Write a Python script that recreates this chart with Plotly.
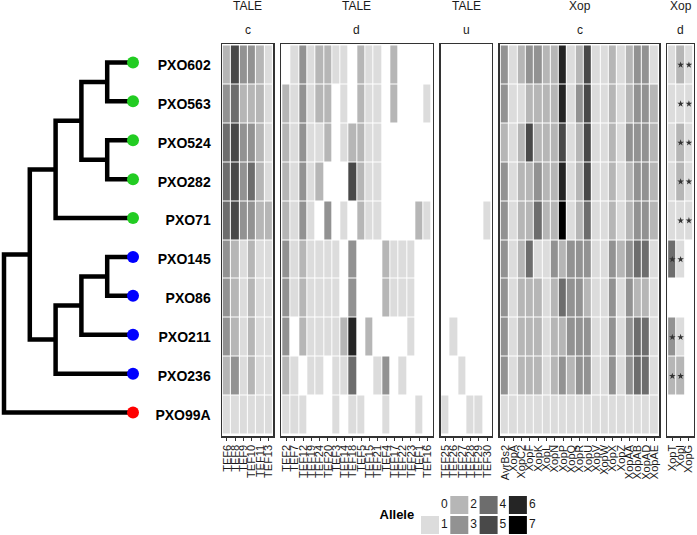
import plotly.graph_objects as go

# ---------------- data ----------------
strains = ["PXO602", "PXO563", "PXO524", "PXO282", "PXO71",
           "PXO145", "PXO86", "PXO211", "PXO236", "PXO99A"]
strain_group = ["g", "g", "g", "g", "g", "b", "b", "b", "b", "r"]
group_colors = {"g": "#22cc22", "b": "#0000ff", "r": "#ff0000"}
green_clade = ((("PXO602", "PXO563"), ("PXO524", "PXO282")), "PXO71")
blue_clade = ((("PXO145", "PXO86"), "PXO211"), "PXO236")
tree = ((green_clade, blue_clade), "PXO99A")

panel_type = ["TALE", "TALE", "TALE", "Xop", "Xop"]
panel_class = ["c", "d", "u", "c", "d"]

tale_c_cols = ["TEF6", "TEF8", "TEF9", "TEF10", "TEF11", "TEF13"]
tale_d_cols = ["TEF2", "TEF7", "TEF12", "TEF19", "TEF24", "TEF20", "TEF3", "TEF14", "TEF18",
               "TEF5", "TEF15", "TEF21", "TEF4", "TEF17", "TEF22", "TEF23", "TEF1", "TEF16"]
tale_u_cols = ["TEF25", "TEF26", "TEF27", "TEF28", "TEF29", "TEF30"]
xop_c_cols = ["AvrBs2", "XopA", "XopC2", "XopF", "XopK", "XopL", "XopN", "XopP", "XopQ", "XopR",
              "XopU", "XopV", "XopW", "XopX", "XopZ", "XopAA", "XopAB", "XopAD", "XopAE"]
xop_d_cols = ["XopT", "XopI", "XopG"]

tale_c = [
    [2, 5, 3, 3, 2, 1],
    [3, 4, 2, 2, 2, 1],
    [4, 5, 3, 3, 2, 1],
    [4, 5, 3, 4, 2, 1],
    [4, 5, 3, 3, 2, 2],
    [3, 2, 1, 2, 1, 1],
    [3, 2, 1, 2, 1, 1],
    [3, 2, 1, 2, 1, 1],
    [2, 3, 1, 2, 1, 1],
    [1, 1, 1, 1, 1, 1],
]
tale_d = [
    [0, 1, 3, 1, 2, 2, 1, 1, 0, 2, 1, 1, 0, 2, 0, 0, 0, 0],
    [2, 1, 3, 1, 2, 2, 0, 1, 0, 2, 1, 1, 0, 2, 0, 0, 0, 1],
    [2, 1, 3, 1, 1, 2, 0, 1, 2, 2, 1, 1, 0, 0, 0, 0, 0, 0],
    [2, 1, 3, 1, 2, 0, 0, 0, 5, 2, 1, 1, 0, 0, 0, 0, 0, 0],
    [2, 1, 3, 1, 0, 3, 0, 1, 0, 2, 1, 1, 0, 0, 0, 0, 2, 1],
    [3, 1, 2, 1, 1, 1, 1, 0, 3, 0, 0, 0, 2, 1, 1, 1, 0, 0],
    [3, 1, 2, 1, 1, 1, 1, 0, 3, 0, 0, 0, 2, 1, 1, 1, 0, 0],
    [3, 0, 2, 1, 1, 1, 1, 2, 6, 0, 2, 0, 0, 0, 0, 1, 0, 0],
    [2, 1, 0, 1, 1, 0, 1, 1, 4, 0, 0, 1, 3, 0, 1, 0, 0, 0],
    [1, 1, 1, 0, 0, 0, 1, 0, 1, 1, 0, 0, 1, 0, 0, 0, 1, 0],
]
tale_u = [
    [0, 0, 0, 0, 0, 0],
    [0, 0, 0, 0, 0, 0],
    [0, 0, 0, 0, 0, 0],
    [0, 0, 0, 0, 0, 0],
    [0, 0, 0, 0, 0, 1],
    [0, 0, 0, 0, 0, 0],
    [0, 0, 0, 0, 0, 0],
    [0, 1, 0, 0, 0, 0],
    [0, 0, 1, 0, 0, 0],
    [1, 0, 0, 1, 1, 0],
]
xop_c = [
    [3, 1, 2, 3, 3, 2, 2, 6, 1, 2, 5, 1, 1, 2, 1, 2, 3, 3, 1],
    [3, 1, 1, 2, 2, 2, 2, 6, 1, 3, 5, 1, 1, 2, 1, 2, 3, 3, 2],
    [2, 1, 2, 5, 2, 2, 2, 5, 1, 2, 5, 1, 1, 2, 1, 3, 3, 3, 2],
    [3, 1, 2, 2, 3, 2, 2, 6, 1, 2, 5, 1, 1, 2, 1, 2, 3, 3, 2],
    [3, 1, 2, 2, 4, 2, 2, 7, 1, 2, 4, 1, 1, 2, 1, 2, 3, 3, 2],
    [3, 1, 2, 4, 1, 1, 3, 2, 3, 3, 3, 1, 1, 3, 2, 3, 4, 4, 1],
    [3, 1, 2, 2, 2, 1, 2, 4, 3, 3, 2, 1, 1, 3, 1, 3, 2, 2, 1],
    [3, 1, 2, 2, 2, 1, 2, 2, 3, 3, 3, 1, 1, 3, 1, 3, 4, 4, 1],
    [3, 1, 2, 2, 2, 1, 2, 3, 2, 3, 3, 1, 1, 3, 1, 3, 4, 4, 1],
    [1, 1, 1, 1, 1, 1, 1, 1, 1, 1, 1, 1, 1, 1, 1, 1, 1, 1, 1],
]
xop_d = [
    [1, 2, 1],
    [1, 1, 1],
    [1, 2, 1],
    [1, 2, 1],
    [1, 1, 1],
    [4, 1, 0],
    [0, 0, 0],
    [3, 1, 0],
    [2, 2, 0],
    [0, 0, 0],
]
# starred cells in the Xop d panel: (row, column)
xop_d_stars = [(0, 1), (0, 2), (1, 1), (1, 2), (2, 1), (2, 2), (3, 1), (3, 2),
               (4, 1), (4, 2), (5, 0), (5, 1), (7, 0), (7, 1), (8, 0), (8, 1)]

alleles = [0, 1, 2, 3, 4, 5, 6, 7]
allele_colors = ["#ffffff", "#dcdcdc", "#b6b6b6", "#929292",
                 "#6d6d6d", "#494949", "#252525", "#000000"]

panel_cols = [tale_c_cols, tale_d_cols, tale_u_cols, xop_c_cols, xop_d_cols]
panel_vals = [tale_c, tale_d, tale_u, xop_c, xop_d]

# ---------------- geometry ----------------
W, H = 697, 535
x_start, col_w, gap, xpad = 222, 8.3, 8, 0.1
box_top, box_bot = 44, 436
nrows = len(strains)
row_h = 38.9
ypad = ((box_bot - box_top) / row_h - nrows) / 2
yrange = [nrows - 0.5 + ypad, -0.5 - ypad]


def px2x(p):
    return p / W


def px2y(p):
    return 1 - p / H


n = len(allele_colors)
cscale = []
for k, c in enumerate(allele_colors):
    cscale.append([k / n, c])
    cscale.append([(k + 1) / n, c])

fig = go.Figure()
layout = {}
left = x_start
for k, (cols, vals) in enumerate(zip(panel_cols, panel_vals)):
    i = k + 1
    nc = len(cols)
    width = (nc + 2 * xpad) * col_w
    dom = [px2x(left), px2x(left + width)]
    fig.add_trace(go.Heatmap(
        z=vals, x=list(range(nc)), y=list(range(nrows)),
        colorscale=cscale, zmin=-0.5, zmax=7.5, showscale=False,
        xgap=1, ygap=1, hoverinfo="skip",
        xaxis=f"x{i}", yaxis=f"y{i}"))
    layout[f"xaxis{i}"] = dict(
        domain=dom, anchor=f"y{i}", range=[-0.5 - xpad, nc - 0.5 + xpad],
        tickmode="array", tickvals=list(range(nc)), ticktext=cols,
        tickangle=-90, ticks="outside", ticklen=3, tickwidth=1, tickcolor="#333333",
        tickfont=dict(size=11, color="#1a1a1a"),
        showline=True, mirror=True, linecolor="#333333", linewidth=1.5,
        showgrid=False, zeroline=False, fixedrange=True, automargin=False)
    ycfg = dict(
        domain=[px2y(box_bot), px2y(box_top)], anchor=f"x{i}", range=yrange,
        showline=True, mirror=True, linecolor="#333333", linewidth=1.5,
        showgrid=False, zeroline=False, fixedrange=True, automargin=False)
    if i == 1:
        ycfg.update(tickmode="array", tickvals=list(range(nrows)),
                    ticktext=[f"<b>{s}</b>" for s in strains],
                    ticks="outside", ticklen=7, tickcolor="rgba(0,0,0,0)",
                    tickfont=dict(size=14, color="#000000"))
    else:
        ycfg.update(showticklabels=False, ticks="")
    layout[f"yaxis{i}"] = ycfg
    # strip labels
    cx = (dom[0] + dom[1]) / 2
    fig.add_annotation(x=cx, y=px2y(6), xref="paper", yref="paper", text=panel_type[k],
                       showarrow=False, font=dict(size=12, color="#1a1a1a"),
                       xanchor="center", yanchor="middle")
    fig.add_annotation(x=cx, y=px2y(30), xref="paper", yref="paper", text=panel_class[k],
                       showarrow=False, font=dict(size=12, color="#1a1a1a"),
                       xanchor="center", yanchor="middle")
    left += width + gap

# stars
fig.add_trace(go.Scatter(
    x=[c for r, c in xop_d_stars], y=[r for r, c in xop_d_stars], mode="markers",
    marker=dict(symbol="star", size=5, color="#333333", line=dict(width=0)),
    xaxis="x5", yaxis="y5", hoverinfo="skip", showlegend=False))

# ---------------- tree ----------------
tip_index = {s: i for i, s in enumerate(strains)}


def height(node):
    if isinstance(node, str):
        return 0
    return 1 + max(height(c) for c in node)


max_depth = height(tree)
lx, ly = [], []


def place(node):
    if isinstance(node, str):
        return max_depth, tip_index[node]
    pts = [place(c) for c in node]
    x = max_depth - height(node)
    y = (pts[0][1] + pts[-1][1]) / 2
    lx.extend([pts[0][0], x, x, pts[-1][0], None])
    ly.extend([pts[0][1], pts[0][1], pts[-1][1], pts[-1][1], None])
    return x, y


place(tree)
fig.add_trace(go.Scatter(x=lx, y=ly, mode="lines",
                         line=dict(color="#000000", width=4.5),
                         xaxis="x6", yaxis="y6", hoverinfo="skip", showlegend=False))
fig.add_trace(go.Scatter(x=[max_depth] * nrows, y=list(range(nrows)), mode="markers",
                         marker=dict(size=12, color=[group_colors[g] for g in strain_group],
                                     line=dict(width=0)),
                         xaxis="x6", yaxis="y6", hoverinfo="skip", showlegend=False))
step = 25.8
tree_shift = 2.5
layout["xaxis6"] = dict(domain=[0, px2x(155)], anchor="y6",
                        range=[-4 / step, (155 - 4) / step], visible=False,
                        fixedrange=True, automargin=False)
layout["yaxis6"] = dict(domain=[px2y(box_bot - tree_shift), px2y(box_top - tree_shift)],
                        anchor="x6", range=yrange, visible=False,
                        fixedrange=True, automargin=False)

# ---------------- legend ----------------
lcol = [a // 2 for a in alleles]
lrow = [a % 2 for a in alleles]
fig.add_trace(go.Scatter(x=lcol, y=lrow, mode="markers",
                         marker=dict(symbol="square", size=18, color=allele_colors,
                                     line=dict(width=0)),
                         xaxis="x7", yaxis="y7", hoverinfo="skip", showlegend=False))
fig.add_trace(go.Scatter(x=[c + 0.49 for c in lcol], y=lrow, mode="text",
                         text=[str(a) for a in alleles],
                         textfont=dict(size=12, color="#1a1a1a"),
                         xaxis="x7", yaxis="y7", hoverinfo="skip", showlegend=False))
fig.add_trace(go.Scatter(x=[-1.13], y=[0.52], mode="text", text=["<b>Allele</b>"],
                         textfont=dict(size=13, color="#000000"),
                         xaxis="x7", yaxis="y7", hoverinfo="skip", showlegend=False))
lstep = 29.3
layout["xaxis7"] = dict(domain=[px2x(370), px2x(545)], anchor="y7",
                        range=[-(430 - 370) / lstep, (545 - 430) / lstep],
                        visible=False, fixedrange=True, automargin=False)
layout["yaxis7"] = dict(domain=[px2y(535), px2y(493)], anchor="x7",
                        range=[(535 - 505) / 20, -(505 - 493) / 20],
                        visible=False, fixedrange=True, automargin=False)

fig.update_layout(
    width=W, height=H, margin=dict(l=0, r=0, t=0, b=0, pad=0, autoexpand=False),
    paper_bgcolor="white", plot_bgcolor="white", hovermode=False,
    font=dict(family="Liberation Sans, Arial, sans-serif", color="#1a1a1a"),
    showlegend=False, **layout)

fig.write_html("out.html",
               config={"displayModeBar": False, "staticPlot": True},
               post_script="document.body.style.margin='0';"
                           "document.body.style.padding='0';"
                           "document.body.style.overflow='hidden';")
